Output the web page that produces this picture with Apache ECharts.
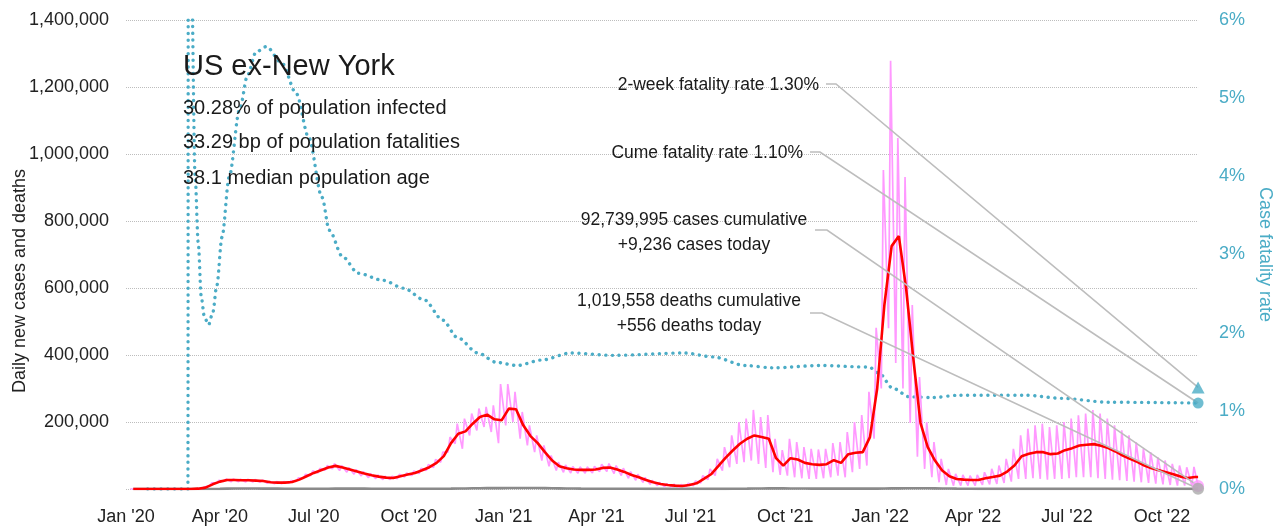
<!DOCTYPE html>
<html><head><meta charset="utf-8">
<script src="https://cdn.jsdelivr.net/npm/echarts@6/dist/echarts.min.js"></script>
<style>html,body{margin:0;padding:0;background:#fff}#c{width:1282px;height:532px}</style>
</head><body><div id="c"></div>
<script>
// ---- DATA (cases in thousands; weekly samples starting Sunday 2020-01-05) ----
const weekStart = '2020-01-05';
// 7-day average of new cases (Wednesday of each week), thousands
const casesAvg = [
 0,0,0,0,0,0,0,0,0.1,1,
 4,14,22,27,27,26,26,25,24,20,
 19,19,21,28,38,48,56,64,69,64,
 58,52,46,41,37,34,33,38,43,48,
 56,65,78,98,137,165,172,195,215,222,
 208,205,240,238,190,158,137,110,85,68,
 62,58,57,57,58,63,64,58,51,42,
 35,27,20,15,12,10,9,12,17,30,
 44,68,93,115,135,150,160,155,150,92,
 70,92,88,78,74,72,74,86,78,104,
 108,110,155,300,550,725,755,600,390,197,
 125,85,55,38,30,28,27,27,32,36,
 40,52,70,98,105,110,110,104,106,116,
 122,130,132,134,129,122,112,100,90,81,
 70,62,56,50,44,37,33,36
];
// daily new cases, weekly high (Tuesday) and low (Sunday), thousands
const casesHigh = [
 0,0,0,0,0,0,0,0,0.3,1,
 6,18,26,30,30,29,29,28,27,23,
 22,22,25,33,44,54,62,70,76,70,
 64,58,52,46,42,38,38,44,48,54,
 62,73,88,110,155,195,210,225,240,245,
 250,313,313,290,230,190,160,130,100,80,
 72,67,66,66,68,74,76,70,62,52,
 44,34,26,20,16,14,13,17,24,40,
 60,90,125,160,200,210,236,215,221,150,
 116,150,140,125,120,118,120,137,140,170,
 200,221,290,481,952,1278,1048,931,549,334,
 200,140,90,60,45,42,40,42,50,60,
 70,90,120,160,180,190,195,185,190,200,
 210,220,225,236,225,210,190,175,160,140,
 120,110,95,85,75,70,65,66
];
const casesLow = [
 0,0,0,0,0,0,0,0,0,0,
 2,10,18,23,22,22,21,21,20,17,
 16,16,17,23,32,40,48,56,60,55,
 50,44,39,34,31,28,28,31,36,40,
 46,55,64,80,110,135,120,160,175,185,
 170,137,190,200,150,130,110,85,68,55,
 50,48,47,47,48,52,52,46,40,32,
 26,20,14,10,7,6,5,7,10,18,
 28,40,55,65,75,80,85,75,63,50,
 42,40,35,32,30,30,32,35,40,35,
 50,60,70,150,300,480,376,300,197,96,
 60,35,20,12,10,10,10,10,12,14,
 15,18,22,30,30,32,30,28,30,30,
 32,35,35,35,32,30,28,26,24,22,
 20,18,16,14,12,10,10,10
];
// daily deaths (weekly), thousands
const deathsAvg = [
 0,0,0,0,0,0,0,0,0,0,
 0.05,0.2,0.5,1.0,1.3,1.4,1.4,1.4,1.2,1.1,
 1.0,0.9,0.7,0.6,0.55,0.55,0.7,0.8,1.0,1.1,
 1.1,1.05,1.0,0.95,0.85,0.75,0.75,0.75,0.7,0.7,
 0.7,0.75,0.8,0.95,1.1,1.5,1.7,2.1,2.4,2.6,
 2.6,2.5,3.0,3.2,3.0,3.0,2.8,2.6,2.2,1.9,
 1.6,1.3,1.0,0.9,0.7,0.7,0.65,0.65,0.6,0.6,
 0.55,0.5,0.45,0.4,0.35,0.3,0.3,0.25,0.25,0.25,
 0.3,0.35,0.5,0.6,0.8,1.0,1.3,1.5,1.8,1.9,
 1.9,1.7,1.5,1.4,1.2,1.1,1.1,1.1,1.0,1.2,
 1.2,1.2,1.3,1.2,1.5,1.8,2.0,2.2,2.4,2.4,
 2.2,1.9,1.5,1.3,1.0,0.8,0.6,0.5,0.45,0.35,
 0.32,0.3,0.3,0.28,0.28,0.3,0.3,0.3,0.32,0.32,
 0.35,0.38,0.4,0.42,0.42,0.42,0.45,0.45,0.45,0.42,
 0.42,0.4,0.38,0.36,0.35,0.35,0.33,0.33
];
// case fatality rate (%)
const cfrDates = ['2020-01-22','2020-03-01','2020-03-02','2020-03-03','2020-03-04','2020-03-08','2020-03-11','2020-03-14','2020-03-17','2020-03-21','2020-03-25','2020-03-29','2020-04-03','2020-04-10','2020-04-20','2020-04-28','2020-05-06','2020-05-16','2020-05-31','2020-06-14','2020-06-26','2020-07-09','2020-07-16','2020-07-29','2020-08-13','2020-09-06','2020-09-26','2020-10-16','2020-11-03','2020-11-17','2020-12-07','2020-12-25','2021-01-14','2021-02-07','2021-03-07','2021-04-17','2021-06-25','2021-07-23','2021-08-23','2021-09-19','2021-11-03','2021-12-21','2021-12-31','2022-01-13','2022-01-29','2022-02-21','2022-03-18','2022-05-22','2022-06-26','2022-08-10','2022-11-05'];
const cfrValues = [0,0,30,22,7,4.0,3.15,2.45,2.2,2.1,2.25,2.6,3.22,3.99,4.85,5.3,5.59,5.66,5.45,5.06,4.5,3.73,3.31,2.97,2.76,2.67,2.57,2.42,2.16,1.94,1.74,1.62,1.58,1.65,1.74,1.71,1.74,1.69,1.58,1.55,1.58,1.56,1.48,1.29,1.18,1.17,1.2,1.2,1.16,1.11,1.10];

const lastDate = '2022-11-05';
const lastCasesAvg = 36;      // thousands
const casesToday = 9236;
const deathsToday = 556;
const casesCumulative = 92739995;
const deathsCumulative = 1019558;
const twoWeekRate = 1.30;
const cumeRate = 1.10;
const pctInfected = '30.28';
const bpFatalities = '33.29';
const medianAge = '38.1';
const regionName = 'US ex-New York';

const tickDates = ['2020-01-01','2020-04-01','2020-07-01','2020-10-01','2021-01-01','2021-04-01','2021-07-01','2021-10-01','2022-01-01','2022-04-01','2022-07-01','2022-10-01'];
const tickLabels = ["Jan '20","Apr '20","Jul '20","Oct '20","Jan '21","Apr '21","Jul '21","Oct '21","Jan '22","Apr '22","Jul '22","Oct '22"];

// ---- build ----
const DAY = 86400000;
const ts = d => Date.parse(d + 'T00:00:00Z');
const t0 = ts(weekStart);
const lastTs = ts(lastDate);
const tickTs = tickDates.map(ts);
const labelFor = v => { const i = tickTs.findIndex(t => Math.abs(t - v) < DAY / 2); return i < 0 ? '' : tickLabels[i]; };

const redData = casesAvg.map((v, i) => [t0 + (7 * i + 3) * DAY, v * 1000]);
redData.push([lastTs, lastCasesAvg * 1000]);
const pinkData = [];
casesLow.forEach((lo, i) => {
  pinkData.push([t0 + 7 * i * DAY, lo * 1000]);
  pinkData.push([t0 + (7 * i + 2) * DAY, casesHigh[i] * 1000]);
});
pinkData.push([lastTs, casesToday]);
const deathData = deathsAvg.map((v, i) => [t0 + (7 * i + 3) * DAY, v * 1000]);
deathData.push([lastTs, deathsToday]);
const cfrData = cfrDates.map((d, i) => [ts(d), cfrValues[i]]);

const FONT = '"Liberation Sans", Arial, sans-serif';
const TEAL = '#4bacc6';

const chart = echarts.init(document.getElementById('c'));
chart.setOption({
  animation: false,
  backgroundColor: '#fff',
  textStyle: { fontFamily: FONT },
  grid: { left: 126, right: 78, top: 20, bottom: 43 },
  xAxis: {
    type: 'value', min: ts('2020-01-01'), max: lastTs,
    axisLine: { show: false }, axisTick: { show: false }, splitLine: { show: false },
    axisLabel: {
      customValues: tickTs,
      formatter: v => labelFor(v),
      fontSize: 18, color: '#222', fontFamily: FONT, margin: 19,
      hideOverlap: false
    }
  },
  yAxis: [
    {
      type: 'value', min: 0, max: 1400000, interval: 200000, position: 'left',
      axisLine: { show: false }, axisTick: { show: false },
      splitLine: { lineStyle: { type: 'dotted', color: '#bdbdbd', width: 1 } },
      axisLabel: { formatter: v => v === 0 ? '' : v.toLocaleString('en-US'), fontSize: 18, color: '#222', fontFamily: FONT, margin: 17 }
    },
    {
      type: 'value', min: 0, max: 6, interval: 1, position: 'right',
      axisLine: { show: false }, axisTick: { show: false }, splitLine: { show: false },
      axisLabel: { formatter: '{value}%', fontSize: 18, color: TEAL, fontFamily: FONT, margin: 21 },
      name: 'Case fatality rate', nameLocation: 'middle', nameRotate: -90, nameGap: 56,
      nameTextStyle: { color: TEAL, fontSize: 18, fontFamily: FONT }
    }
  ],
  series: [
    { name: 'Case fatality rate', type: 'line', yAxisIndex: 1, data: cfrData, showSymbol: false, smooth: 0.3, smoothMonotone: 'x', z: 2,
      lineStyle: { color: TEAL, width: 3.4, type: [0.1, 6.6], cap: 'round' } },
    { name: 'Deaths', type: 'line', data: deathData, showSymbol: false, z: 3,
      lineStyle: { color: '#8a8a8a', width: 2.6 } },
    { name: 'Daily cases', type: 'line', data: pinkData, showSymbol: false, z: 4,
      lineStyle: { color: '#ff99ff', width: 1.7 } },
    { name: 'Cases 7-day avg', type: 'line', data: redData, showSymbol: false, z: 5,
      lineStyle: { color: '#ff0000', width: 2.6 } },
    { type: 'scatter', yAxisIndex: 1, clip: false, z: 20, silent: true,
      data: [{ value: [lastTs, twoWeekRate], symbol: 'triangle', symbolSize: [13, 12] },
             { value: [lastTs, cumeRate], symbol: 'circle', symbolSize: 11 }],
      itemStyle: { color: TEAL } },
    { type: 'scatter', clip: false, z: 20, silent: true,
      data: [{ value: [lastTs, casesToday], itemStyle: { color: '#ff99ff' }, symbolSize: 12 },
             { value: [lastTs, deathsToday], itemStyle: { color: '#aaaaaa' }, symbolSize: 12 }] }
  ]
});

const pTri = chart.convertToPixel({ xAxisIndex: 0, yAxisIndex: 1 }, [lastTs, twoWeekRate]);
const pCume = chart.convertToPixel({ xAxisIndex: 0, yAxisIndex: 1 }, [lastTs, cumeRate]);
const pCase = chart.convertToPixel({ xAxisIndex: 0, yAxisIndex: 0 }, [lastTs, casesToday]);
const pDeath = chart.convertToPixel({ xAxisIndex: 0, yAxisIndex: 0 }, [lastTs, deathsToday]);

const txt = (x, y, text, size, align, color, extra) => Object.assign({
  type: 'text', x, y, z: 15, silent: true,
  style: { text, fontSize: size, fontFamily: FONT, fill: color || '#1a1a1a', align: align || 'left', verticalAlign: 'middle' }
}, extra || {});
const leader = pts => ({ type: 'polyline', z: 12, silent: true, shape: { points: pts }, style: { stroke: '#bdbdbd', lineWidth: 1.6, fill: null } });
const fmt = n => n.toLocaleString('en-US');

chart.setOption({
  graphic: [
    txt(183, 67, regionName, 29),
    txt(183, 108, pctInfected + '% of population infected', 20),
    txt(183, 142, bpFatalities + ' bp of population fatalities', 20),
    txt(183, 178, medianAge + ' median population age', 20),
    txt(819, 85, '2-week fatality rate ' + twoWeekRate.toFixed(2) + '%', 17.5, 'right'),
    txt(803, 153, 'Cume fatality rate ' + cumeRate.toFixed(2) + '%', 17.5, 'right'),
    txt(694, 220, fmt(casesCumulative) + ' cases cumulative', 17.5, 'center'),
    txt(694, 245, '+' + fmt(casesToday) + ' cases today', 17.5, 'center'),
    txt(689, 301, fmt(deathsCumulative) + ' deaths cumulative', 17.5, 'center'),
    txt(689, 326, '+' + fmt(deathsToday) + ' deaths today', 17.5, 'center'),
    txt(20, 281, 'Daily new cases and deaths', 18, 'center', '#222', { rotation: Math.PI / 2 }),
    leader([[826, 84], [836, 84], pTri]),
    leader([[810, 152], [820, 152], pCume]),
    leader([[815, 230], [827, 230], pCase]),
    leader([[810, 313], [822, 313], pDeath])
  ]
});
</script>
</body></html>
